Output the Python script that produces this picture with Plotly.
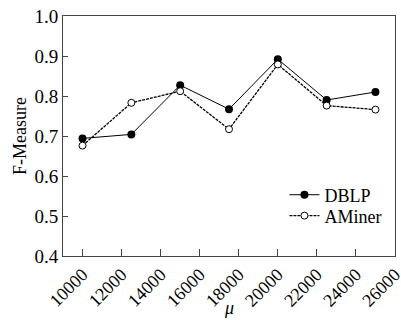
import plotly.graph_objects as go

mu = [10000, 12500, 15000, 17500, 20000, 22500, 25000]
dblp = [0.694, 0.704, 0.827, 0.767, 0.892, 0.790, 0.810]
aminer = [0.676, 0.783, 0.812, 0.717, 0.879, 0.776, 0.766]
x_ticks = [10000, 12000, 14000, 16000, 18000, 20000, 22000, 24000, 26000]
y_ticks = [0.4, 0.5, 0.6, 0.7, 0.8, 0.9, 1.0]

FONT = "Times New Roman, Liberation Serif, serif"

fig = go.Figure()
fig.add_trace(go.Scatter(
    x=mu, y=dblp, name="DBLP", mode="lines+markers",
    line=dict(color="black", width=1),
    marker=dict(symbol="circle", size=8, color="black"),
    legend="legend",
))
fig.add_trace(go.Scatter(
    x=mu, y=aminer, name="AMiner", mode="lines+markers",
    line=dict(color="black", width=1.3, dash="3px,1px"),
    marker=dict(symbol="circle", size=7, color="white",
                line=dict(color="black", width=1)),
    legend="legend2",
))

leg = dict(xanchor="left", yanchor="middle", bgcolor="rgba(0,0,0,0)",
           font=dict(family=FONT, size=18, color="black"), itemwidth=30)

fig.update_layout(
    width=401, height=320,
    margin=dict(l=63, r=6, t=16, b=64, autoexpand=False),
    paper_bgcolor="white", plot_bgcolor="white",
    font=dict(family=FONT, size=18, color="black"),
    showlegend=True,
    legend=dict(x=0.667, y=0.254, **leg),
    legend2=dict(x=0.667, y=0.167, **leg),
    annotations=[
        dict(text="<i>μ</i>", xref="paper", yref="paper", x=0.5, y=-0.215,
             xanchor="center", yanchor="middle", showarrow=False,
             font=dict(family=FONT, size=18)),
        dict(text="F-Measure", xref="paper", yref="paper", x=-0.1295, y=0.5,
             xanchor="center", yanchor="middle", showarrow=False, textangle=-90,
             font=dict(family=FONT, size=18)),
    ],
)
fig.update_xaxes(
    range=[9000, 26000.5], tickvals=x_ticks, ticktext=[str(v) for v in x_ticks],
    tickangle=-45, ticks="inside", ticklen=7, tickcolor="#444",
    showline=True, linecolor="#444", linewidth=1, mirror=True,
    showgrid=False, zeroline=False, automargin=False,
    ticklabeloverflow="allow",
    tickfont=dict(family=FONT, size=18),
)
fig.update_yaxes(
    range=[0.4, 1.0], tickvals=y_ticks, ticktext=[f"{v:.1f}" for v in y_ticks],
    ticks="inside", ticklen=5, tickcolor="#444",
    showline=True, linecolor="#444", linewidth=1, mirror=True,
    showgrid=False, zeroline=False, automargin=False,
    tickfont=dict(family=FONT, size=19),
)

fig.write_html("out.html",
               config={"displayModeBar": False},
               post_script="document.body.style.margin='0';document.body.style.overflow='hidden';")
